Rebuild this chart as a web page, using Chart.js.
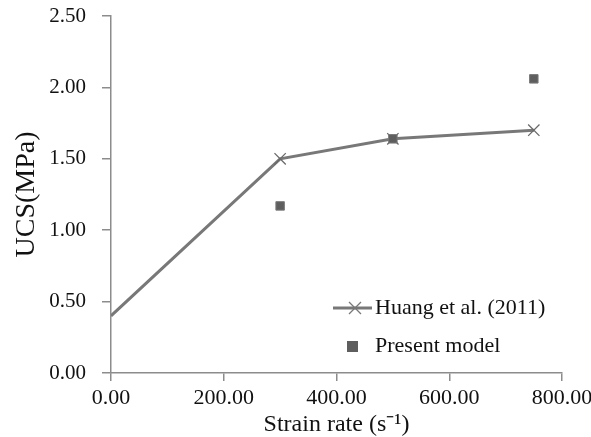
<!DOCTYPE html>
<html>
<head>
<meta charset="utf-8">
<script src="https://cdn.jsdelivr.net/npm/chart.js@4.4.0/dist/chart.umd.min.js"></script>
<style>
  html, body { margin: 0; padding: 0; background: #fff; }
  #wrap { width: 591px; height: 437px; position: relative; }
</style>
</head>
<body>
<div id="wrap"><canvas id="c" width="591" height="437"></canvas></div>
<script>
// values
const huangX = [0, 300, 500, 750];
const huangY = [0.40, 1.50, 1.64, 1.70];
const modelX = [300, 500, 750];
const modelY = [1.17, 1.64, 2.06];
const xTicks = [0, 200, 400, 600, 800];
const yTicks = [0, 0.5, 1.0, 1.5, 2.0, 2.5];

const FONT = "'Liberation Serif', 'Times New Roman', serif";
const AXIS_GREY = '#8c8c8c';

// legend drawn inside the plot, bottom right
const innerLegend = {
    id: 'innerLegend',
    afterDraw(chart) {
        const ctx = chart.ctx;
        const ds = chart.data.datasets;
        const x0 = 333, textX = 375;
        const rows = [308, 346];
        ctx.save();
        ctx.font = '22px ' + FONT;
        ctx.fillStyle = '#111';
        ctx.textBaseline = 'middle';

        // row 1: line + cross
        ctx.strokeStyle = ds[0].borderColor;
        ctx.lineWidth = 3;
        ctx.beginPath();
        ctx.moveTo(x0, rows[0]);
        ctx.lineTo(x0 + 39, rows[0]);
        ctx.stroke();
        ctx.lineWidth = 1.3;
        ctx.beginPath();
        const cx = 355, r = 6;
        ctx.moveTo(cx - r, rows[0] - r); ctx.lineTo(cx + r, rows[0] + r);
        ctx.moveTo(cx + r, rows[0] - r); ctx.lineTo(cx - r, rows[0] + r);
        ctx.stroke();
        ctx.fillText(ds[0].label, textX, rows[0]);

        // row 2: square
        ctx.fillStyle = ds[1].backgroundColor;
        ctx.fillRect(347, rows[1] - 5, 11, 11);
        ctx.fillStyle = '#111';
        ctx.fillText(ds[1].label, textX, rows[1]);
        ctx.restore();
    }
};

new Chart(document.getElementById('c'), {
    type: 'scatter',
    data: {
        datasets: [
            {
                label: 'Huang et al. (2011)',
                data: huangX.map((x, i) => ({ x, y: huangY[i] })),
                showLine: true,
                borderColor: '#787878',
                backgroundColor: '#787878',
                borderWidth: 3,
                pointStyle: 'crossRot',
                pointRadius: (c) => c.dataIndex === 0 ? 0 : 8,
                pointBorderWidth: 1.3,
                pointBorderColor: '#6a6a6a',
                order: 2,
            },
            {
                label: 'Present model',
                data: modelX.map((x, i) => ({ x, y: modelY[i] })),
                showLine: false,
                pointStyle: 'rect',
                pointRadius: 6,
                backgroundColor: '#5e5e5e',
                borderColor: '#7a7a7a',
                borderWidth: 1,
                order: 1,
            }
        ]
    },
    options: {
        responsive: false,
        animation: false,
        layout: { padding: { top: 16, right: 29, left: 0, bottom: 0 } },
        plugins: {
            legend: { display: false },
            tooltip: { enabled: false }
        },
        scales: {
            x: {
                type: 'linear',
                min: 0, max: 800,
                afterBuildTicks: (s) => { s.ticks = xTicks.map(v => ({ value: v })); },
                afterFit: (s) => { s.height = 64; s.paddingLeft = 0; s.paddingRight = 0; },
                border: { color: AXIS_GREY, width: 1.5 },
                grid: { drawOnChartArea: false, tickLength: 8, color: AXIS_GREY, lineWidth: 1.5 },
                ticks: {
                    color: '#111',
                    font: { family: FONT, size: 22 },
                    padding: 4,
                    callback: (v) => v.toFixed(2)
                },
                title: {
                    display: true,
                    text: 'Strain rate (s\u207B\u00B9)',
                    color: '#111',
                    font: { family: FONT, size: 24, lineHeight: 1.0 },
                    padding: { top: 0, bottom: 0 }
                }
            },
            y: {
                type: 'linear',
                min: 0, max: 2.5,
                afterBuildTicks: (s) => { s.ticks = yTicks.map(v => ({ value: v })); },
                afterFit: (s) => { s.width = 111; s.paddingTop = 0; s.paddingBottom = 0; },
                border: { color: AXIS_GREY, width: 1.5 },
                grid: { drawOnChartArea: false, tickLength: 9, color: AXIS_GREY, lineWidth: 1.5 },
                ticks: {
                    color: '#111',
                    font: { family: FONT, size: 21 },
                    padding: 16,
                    callback: (v) => v.toFixed(2)
                },
                title: {
                    display: true,
                    text: 'UCS(MPa)',
                    color: '#111',
                    font: { family: FONT, size: 28 },
                    padding: { top: 10, bottom: 0 }
                }
            }
        }
    },
    plugins: [innerLegend]
});
</script>
</body>
</html>
